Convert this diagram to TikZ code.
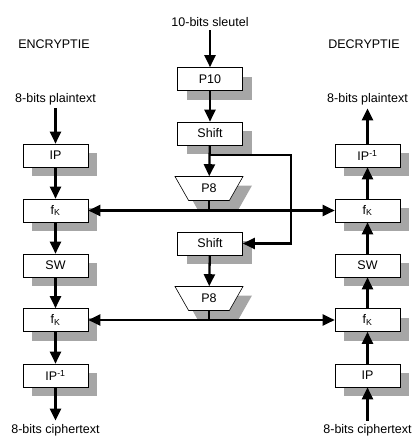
\documentclass[tikz,border=0pt]{standalone}
\usepackage{fontspec}
\setmainfont{Liberation Sans}
\usetikzlibrary{arrows.meta,shapes.geometric,shadows}
\newcommand{\boxw}{65pt}
\newcommand{\fk}{f\textsubscript{K}}
\newcommand{\ipinv}{IP\textsuperscript{-1}}

\begin{document}
\begin{tikzpicture}[x=1pt,y=-1pt,
    font=\fontsize{12.5}{15}\selectfont,
    blok/.style={draw, line width=0.6pt, fill=white, minimum width=\boxw, minimum height=23pt, inner sep=0pt,
      drop shadow={shadow xshift=9pt, shadow yshift=-9pt, fill=black!35, opacity=1}},
    trap/.style={blok, trapezium, shape border rotate=180, trapezium stretches=true,
      minimum width=68pt, minimum height=24pt},
    pijl/.style={line width=2.3pt, -{Triangle[width=11pt,length=12pt]}},
    dubbel/.style={line width=2.3pt, {Triangle[width=11pt,length=12pt]}-{Triangle[width=11pt,length=12pt]}}]
  \useasboundingbox (0,0) rectangle (417,444);

  % sleutel
  \node (key) at (210,22) {10-bits sleutel};
  \node (p10) at (210,79) [blok] {P10};
  \node (sha) at (210,133.5) [blok] {Shift};
  \node (p8a) at (209,188.5) [trap] {P8};
  \node (shb) at (210,243.5) [blok] {Shift};
  \node (p8b) at (209,298.5) [trap] {P8};

  % encryptie
  \node (enc) at (54,44) {ENCRYPTIE};
  \node (pl) at (55.5,99) {8-bits plaintext};
  \node (e1) at (55.5,155.5) [blok] {IP};
  \node (e2) at (55.5,210.5) [blok] {\fk};
  \node (e3) at (55.5,265.5) [blok] {SW};
  \node (e4) at (55.5,320) [blok] {\fk};
  \node (e5) at (55.5,375.5) [blok] {\ipinv};
  \node (ct) at (55.5,430) {8-bits ciphertext};

  % decryptie
  \node (dec) at (364,44) {DECRYPTIE};
  \node (dpl) at (367.5,99) {8-bits plaintext};
  \node (d5) at (367.5,155.5) [blok] {\ipinv};
  \node (d4) at (367.5,210.5) [blok] {\fk};
  \node (d3) at (367.5,265.5) [blok] {SW};
  \node (d2) at (367.5,320) [blok] {\fk};
  \node (d1) at (367.5,375.5) [blok] {IP};
  \node (dct) at (367.5,430) {8-bits ciphertext};

  \draw[pijl] (key) -- (p10);
  \draw[pijl] (p10) -- (sha);
  \draw[pijl] (sha) -- (p8a);
  \draw[pijl] (shb) -- (p8b);
  \coordinate (split) at (210,155);
  \coordinate (terug) at (291,155);
  \draw[pijl] (split) -- (terug) |- (shb);

  \draw[pijl] (pl) -- (e1);
  \foreach \a/\b in {e1/e2,e2/e3,e3/e4,e4/e5,e5/ct}
  {
    \draw[pijl] (\a) -- (\b);
  }
  \draw[pijl] (dct) -- (d1);
  \foreach \a/\b in {d1/d2,d2/d3,d3/d4,d4/d5,d5/dpl}
  {
    \draw[pijl] (\a) -- (\b);
  }

  \draw[dubbel] (e2) -- (d4);
  \draw[dubbel] (e4) -- (d2);
  \draw[line width=2.3pt] (p8a.south) -- (p8a.south |- e2);
  \draw[line width=2.3pt] (p8b.south) -- (p8b.south |- e4);
\end{tikzpicture}
\end{document}
